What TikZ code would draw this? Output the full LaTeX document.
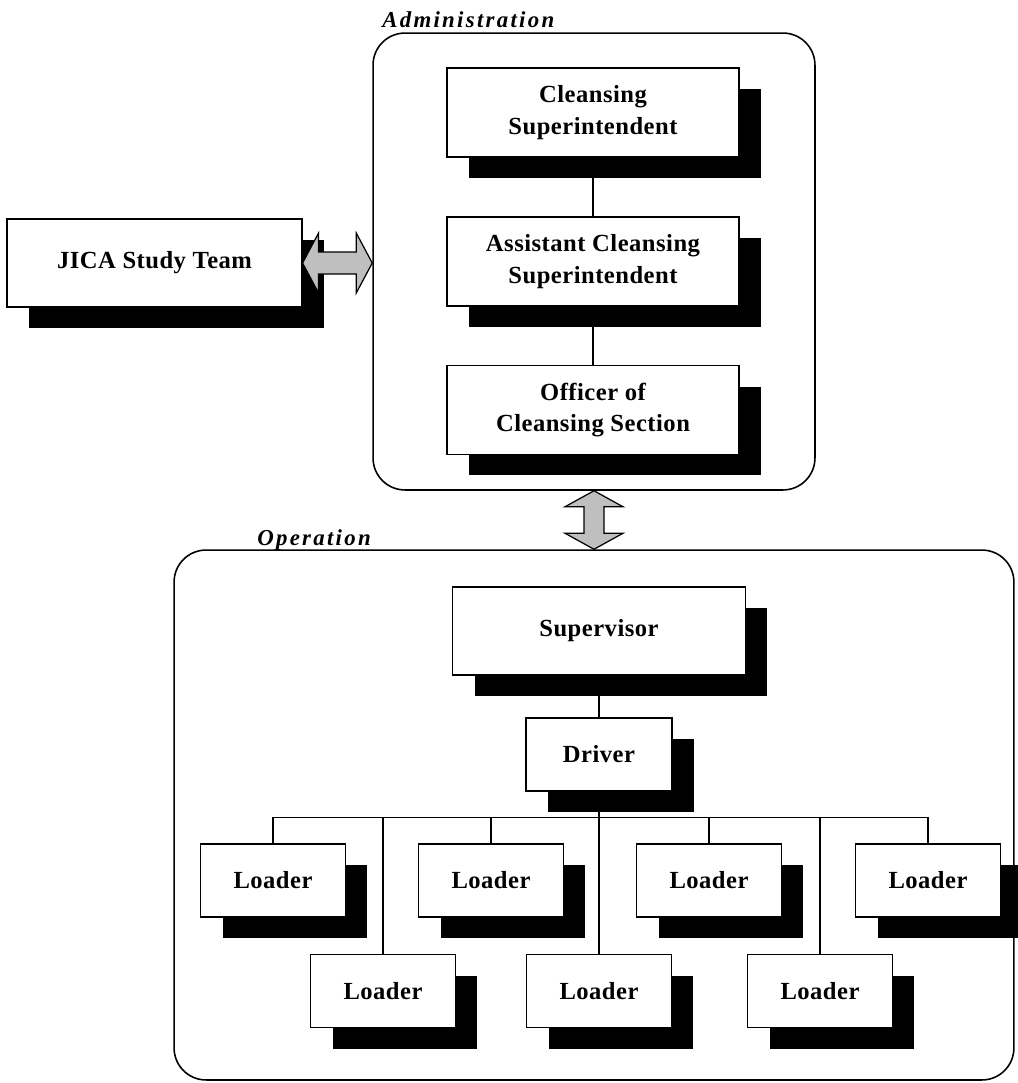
\documentclass[tikz,border=0pt]{standalone}
\usepackage{fontspec}
\setmainfont{Liberation Serif}
\newfontfamily\rolefont[LetterSpace=2]{Liberation Serif}
\newfontfamily\groupfont[LetterSpace=10]{Liberation Serif}
\usetikzlibrary{shadows,calc}

\begin{document}
\begin{tikzpicture}[x=0.02cm,y=-0.02cm,
    rolebox/.style={draw, fill=white, line width=0.7pt, inner sep=0pt, align=center,
        font=\rolefont\bfseries\fontsize{14}{18}\selectfont,
        drop shadow={shadow xshift=0.44cm, shadow yshift=-0.42cm, opacity=1, fill=black}},
    rolewide/.style={minimum width=5.84cm, minimum height=1.78cm},
    loader/.style={minimum width=2.9cm, minimum height=1.46cm},
    groupbox/.style={draw, line width=0.9pt, rounded corners=0.64cm, inner sep=0pt},
    grouplabel/.style={anchor=base west, inner sep=0pt,
        font=\groupfont\bfseries\itshape\fontsize{13}{16}\selectfont},
    fatarrow/.style={draw, line width=0.7pt, fill=black!25},
    link/.style={line width=0.7pt}]
    \useasboundingbox (0,0) rectangle (1018,1083);

    % the two groups
    \node[groupbox, minimum width=8.84cm, minimum height=9.14cm] (admin) at (594,261.5) {};
    \node[groupbox, minimum width=16.8cm, minimum height=10.6cm] (oper) at (594,815) {};
    \node[grouplabel] (adminlabel) at (382,27) {Administration};
    \node[grouplabel] (operlabel) at (257,545) {Operation};

    % administration
    \node[rolebox, rolewide] (cs) at (593,112.5) {Cleansing\\Superintendent};
    \node[rolebox, rolewide] (acs) at (593,261.5) {Assistant Cleansing\\Superintendent};
    \node[rolebox, rolewide] (ocs) at (593,410) {Officer of\\Cleansing Section};
    \node[rolebox, minimum width=5.9cm, minimum height=1.76cm] (jica) at (154.5,263) {JICA Study Team};

    % operation
    \node[rolebox, minimum width=5.86cm, minimum height=1.76cm] (sup) at (599,631) {Supervisor};
    \node[rolebox, minimum width=2.92cm, minimum height=1.46cm] (drv) at (599,754.5) {Driver};
    \foreach \i/\x/\y in {1/273/880.5, 2/491/880.5, 3/709/880.5, 4/928/880.5,
                          5/383/991, 6/599/991, 7/820/991} {
        \node[rolebox, loader] (l\i) at (\x,\y) {Loader};
    }

    % lines
    \draw[link] (cs) -- (acs);
    \draw[link] (acs) -- (ocs);
    \draw[link] (sup) -- (drv);
    \coordinate (bus) at ($(drv.south)+(0,26)$);
    \draw[link] (drv.south) -- (l6.north);
    \draw[link] (l1.north) -- (l1.north |- bus) -- (l4.north |- bus) -- (l4.north);
    \foreach \n in {l2,l3,l5,l7} {
        \draw[link] (\n.north) -- (\n.north |- bus);
    }

    % block arrows
    \coordinate (ja) at (jica.east);
    \coordinate (jb) at (admin.west |- jica.east);
    \filldraw[fatarrow] (ja) -- ++(16,-30) -- ++(0,19) -- ($(jb)+(-16,-11)$) -- ++(0,-19) -- (jb)
        -- ++(-16,30) -- ++(0,-19) -- ($(ja)+(16,11)$) -- ++(0,19) -- cycle;
    \coordinate (va) at (admin.south);
    \coordinate (vb) at (oper.north -| admin.south);
    \filldraw[fatarrow] (va) -- ++(29,16) -- ++(-19,0) -- ($(vb)+(10,-16)$) -- ++(19,0) -- (vb)
        -- ++(-29,-16) -- ++(19,0) -- ($(va)+(-10,16)$) -- ++(-19,0) -- cycle;
\end{tikzpicture}
\end{document}
